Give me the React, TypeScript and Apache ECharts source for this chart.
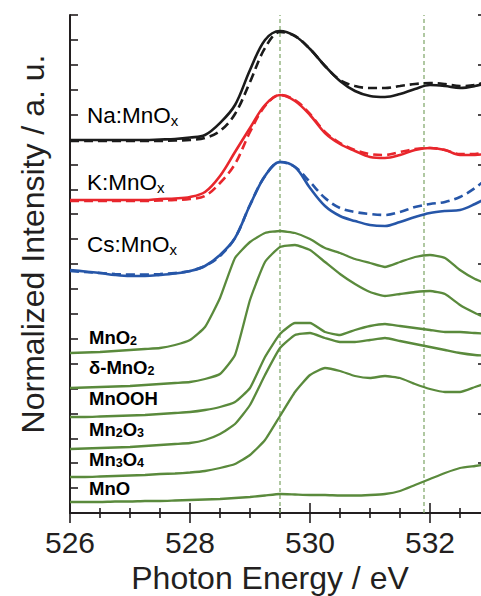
import React, { useEffect, useRef } from "react";
import * as echarts from "echarts";

// Photon energy (eV) sampling grid shared by all spectra
const energy = [
  526, 526.25, 526.5, 526.75, 527, 527.25, 527.5, 527.75, 528, 528.25,
  528.5, 528.75, 529, 529.25, 529.5, 529.75, 530, 530.25, 530.5, 530.75,
  531, 531.25, 531.5, 531.75, 532, 532.25, 532.5, 532.75, 533,
];

// Normalized (offset) intensities, arbitrary units
const naSolid = [373, 373, 373, 373, 373, 373, 373.5, 374, 375.5, 378, 390, 408, 443, 473, 482, 477, 464, 447, 432, 422, 417, 416, 419, 424, 428, 427, 425, 427, 431];
const naDashed = [372, 372, 372, 372, 372, 372, 372, 372.5, 373, 375, 382, 399, 431, 465, 481, 477, 464, 447, 433, 427, 425, 425, 427, 429, 430, 429, 427, 428, 433];
const kSolid = [313, 313, 313, 313, 313, 313, 314, 314.5, 316, 321, 337, 361, 385, 408, 418, 412, 398, 380, 369, 362, 356, 355, 358, 363, 365, 363, 358, 358, 360];
const kDashed = [312, 312, 312, 312, 312, 312, 312.5, 313, 314, 317, 330, 349, 381, 407, 418, 413, 399, 381, 370, 363, 359, 358, 361, 364, 365, 363, 359, 359, 363];
const csSolid = [243, 241.5, 240, 238, 237, 237, 238, 239.5, 242, 247, 258, 275, 308, 337, 351, 346, 325, 307, 297, 292, 288, 287, 291, 296, 300, 302, 303, 309, 317];
const csDashed = [242, 241, 240, 239, 238.5, 238.5, 239, 240, 242, 247, 257, 275, 308, 337, 351, 346, 331, 315, 305, 301, 299, 298, 301, 306, 309, 311, 316, 325, 337];
const mnO2 = [160, 160.5, 161, 162, 163, 164, 165, 168, 173, 186, 215, 255, 271, 280, 282, 280, 274, 265, 260, 254, 250, 246, 251, 256, 258, 255, 243, 234, 228];
const deltaMnO2 = [125, 125.5, 126, 126.5, 127, 128, 129, 130, 131, 134, 139, 158, 213, 251, 266, 268, 263, 251, 239, 229, 221, 217, 219, 221, 222, 219, 208, 200, 193];
const mnOOH = [96, 96, 96.5, 97, 97.5, 98, 99, 100, 101, 103, 106, 111, 125, 156, 179, 190, 190, 181, 178, 183, 187, 189, 187, 185, 183, 181, 181, 180, 179];
const mn2O3 = [64, 64.5, 65, 65.5, 66, 67, 68, 69, 70, 73, 79, 89, 108, 138, 165, 178, 180, 175, 171, 171, 173, 175, 172, 169, 166, 163, 160, 158, 157];
const mn3O4 = [36, 36, 36.5, 37, 37.5, 38, 39, 39.5, 40.5, 42, 45, 49, 58, 73, 97, 121, 138, 145, 142, 137, 135, 137, 135, 129, 124, 121, 121, 126, 131];
const mnO = [11, 11, 11, 11.5, 11.5, 12, 12, 12.5, 13, 13.5, 14, 15, 16, 17.5, 19, 18.5, 18, 18, 17.5, 17.5, 18, 19, 22, 28, 34, 40, 45, 47, 49];

// Reference energies (dashed guides)
const guideEnergies = [529.5, 531.9];
const xTicks = [526, 528, 530, 532];

const FONT = "Liberation Sans";
const AX = "#231f20";
const BLACK = "#1b1b1b";
const RED = "#e8262c";
const BLUE = "#2656a8";
const GREEN = "#5a8a3c";
const GUIDE = "#86ab70";

const pair = (v: number[]) => energy.map((e, i) => [e, v[i]]);

export default function App() {
  const ref = useRef<HTMLDivElement>(null);
  useEffect(() => {
    document.body.style.margin = "0";
    if (!ref.current) return;
    const chart = echarts.init(ref.current, undefined, { renderer: "svg" });

    const solid = (name: string, v: number[], color: string) => ({
      name, type: "line", data: pair(v), symbol: "none", smooth: 0.35, z: 4,
      lineStyle: { color, width: 2.6 },
    });
    const dashed = (name: string, v: number[], color: string) => ({
      name, type: "line", data: pair(v), symbol: "none", smooth: 0.35, z: 3,
      lineStyle: { color, width: 2.6, type: [9, 5] },
    });
    const green = (name: string, v: number[]) => ({
      name, type: "line", data: pair(v), symbol: "none", smooth: 0.15, z: 2,
      lineStyle: { color: GREEN, width: 2.3 },
    });
    const guides = guideEnergies.map((g, i) => ({
      name: "guide" + i, type: "line", data: [[g, 0], [g, 498]], symbol: "none", z: 1,
      lineStyle: { color: GUIDE, width: 1.3, type: [4, 3] },
    }));

    const main = (fs: number, bold: boolean, color: string) => ({
      fontSize: fs, fontFamily: FONT, fontWeight: bold ? "bold" : "normal", color, lineHeight: bold ? 20 : 26,
    });
    const sub = (fs: number, bold: boolean, color: string) => ({
      fontSize: fs, fontFamily: FONT, fontWeight: bold ? "bold" : "normal", color, lineHeight: bold ? 8 : 10, verticalAlign: "bottom",
    });
    const label = (x: number, y: number, text: string, color: string, bold: boolean) => ({
      type: "text", x, y, z: 10,
      style: {
        text,
        rich: {
          m: main(bold ? 18.5 : 22.5, bold, color),
          s: sub(bold ? 12.5 : 15, bold, color),
        },
      },
    });

    chart.setOption({
      animation: false,
      grid: { left: 70, right: -69, top: 15, bottom: 83, outerBoundsMode: "none", containLabel: false },
      xAxis: [
        {
          type: "value", min: 526, max: 534, interval: 2, position: "bottom",
          axisLine: { lineStyle: { color: AX, width: 2 } },
          axisTick: { inside: true, length: 10, lineStyle: { color: AX, width: 1.6 } },
          minorTick: { show: true, splitNumber: 4, length: 5, lineStyle: { color: AX, width: 1.6 } },
          axisLabel: {
            fontSize: 30, fontFamily: FONT, color: AX, margin: 14, showMaxLabel: false,
            formatter: (v: number) => (xTicks.includes(v) ? String(v) : ""),
          },
          splitLine: { show: false },
          name: "Photon Energy / eV", nameLocation: "middle", nameGap: 46,
          nameTextStyle: { fontSize: 32, fontFamily: FONT, color: AX, padding: [0, 80, 0, 0] },
        },
        {
          type: "value", min: 526, max: 534, interval: 2, position: "top",
          axisLine: { lineStyle: { color: AX, width: 2 } },
          axisTick: { inside: true, length: 10, lineStyle: { color: AX, width: 1.6 } },
          minorTick: { show: true, splitNumber: 4, length: 5, lineStyle: { color: AX, width: 1.6 } },
          axisLabel: { show: false },
          splitLine: { show: false },
        },
      ],
      yAxis: [
        {
          type: "value", min: 0, max: 498, interval: 24.9, position: "left",
          axisLine: { show: true, lineStyle: { color: AX, width: 2 } },
          axisTick: { show: true, inside: true, length: 8, lineStyle: { color: AX, width: 1.6 } },
          axisLabel: { show: false },
          splitLine: { show: false },
          name: "Normalized Intensity / a. u.", nameLocation: "middle", nameGap: 21,
          nameTextStyle: { fontSize: 32, fontFamily: FONT, color: AX, padding: [0, 0, 0, 40] },
        },
        {
          type: "value", min: 0, max: 498, interval: 49.8, position: "right", offset: -64,
          axisLine: { show: false },
          axisTick: { show: true, inside: true, length: 8, lineStyle: { color: AX, width: 1.6 } },
          axisLabel: { show: false },
          splitLine: { show: false },
        },
      ],
      series: [
        ...guides,
        green("MnO2", mnO2),
        green("δ-MnO2", deltaMnO2),
        green("MnOOH", mnOOH),
        green("Mn2O3", mn2O3),
        green("Mn3O4", mn3O4),
        green("MnO", mnO),
        dashed("Na:MnOx ref", naDashed, BLACK),
        solid("Na:MnOx", naSolid, BLACK),
        dashed("K:MnOx ref", kDashed, RED),
        solid("K:MnOx", kSolid, RED),
        dashed("Cs:MnOx ref", csDashed, BLUE),
        solid("Cs:MnOx", csSolid, BLUE),
      ],
      graphic: [
        label(87, 102, "{m|Na:MnO}{s|x}", BLACK, false),
        label(87, 169, "{m|K:MnO}{s|x}", RED, false),
        label(87, 231, "{m|Cs:MnO}{s|x}", BLUE, false),
        label(89, 327, "{m|MnO}{s|2}", GREEN, true),
        label(89, 357, "{m|δ-MnO}{s|2}", GREEN, true),
        label(89, 388, "{m|MnOOH}", GREEN, true),
        label(89, 419, "{m|Mn}{s|2}{m|O}{s|3}", GREEN, true),
        label(89, 449, "{m|Mn}{s|3}{m|O}{s|4}", GREEN, true),
        label(89, 478, "{m|MnO}", GREEN, true),
      ],
    });
    return () => chart.dispose();
  }, []);
  return <div ref={ref} style={{ width: 481, height: 596 }} />;
}
